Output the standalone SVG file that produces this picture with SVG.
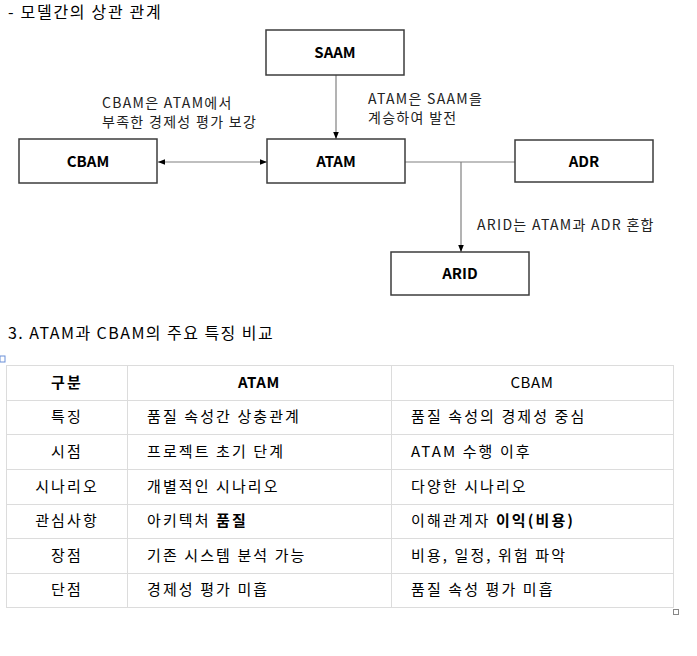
<svg xmlns="http://www.w3.org/2000/svg" width="697" height="656" viewBox="0 0 697 656">
<style>
.t{font-family:"Noto Sans CJK KR","Noto Sans",sans-serif;fill:#000}
.h{font-size:16px;letter-spacing:1.7px}
.h2{font-size:16px;letter-spacing:1.45px}
.lbl{font-size:14px;fill:#222;letter-spacing:1.3px}
.box{fill:#fff;stroke:#3c3c3c;stroke-width:1.5}
.bl{font-size:15px;font-weight:bold;text-anchor:middle}
.cn{stroke:#808080;stroke-width:1.2;fill:none}
.grid{stroke:#dcdcdc;stroke-width:1;fill:none}
.td{font-size:15px;letter-spacing:2.1px}
.lat{letter-spacing:0.6px}
.c{text-anchor:middle}
.b{font-weight:bold}
</style>
<defs>
<marker id="ah" viewBox="0 0 10 10" refX="10" refY="5" markerWidth="7" markerHeight="7" orient="auto-start-reverse" markerUnits="userSpaceOnUse">
<path d="M0,1 L10,5 L0,9 z" fill="#000"/>
</marker>
</defs>
<rect width="697" height="656" fill="#fff"/>
<text class="t h" x="8" y="18">- 모델간의 상관 관계</text>

<g id="connectors">
<line class="cn" x1="336" y1="75" x2="336" y2="139" marker-end="url(#ah)"/>
<line class="cn" x1="158" y1="162" x2="267" y2="162" marker-start="url(#ah)" marker-end="url(#ah)"/>
<line class="cn" x1="405" y1="162" x2="515" y2="162"/>
<line class="cn" x1="461" y1="162" x2="461" y2="252" marker-end="url(#ah)"/>
<text class="t lbl" x="102" y="108">CBAM은 ATAM에서</text>
<text class="t lbl" x="102" y="127">부족한 경제성 평가 보강</text>
<text class="t lbl" x="368" y="104">ATAM은 SAAM을</text>
<text class="t lbl" x="368" y="123">계승하여 발전</text>
<text class="t lbl" x="477" y="230">ARID는 ATAM과 ADR 혼합</text>
</g>

<g id="SAAM"><rect class="box" x="266" y="30" width="138" height="45"/><text class="t bl" x="335" y="58">SAAM</text></g>
<g id="ATAM"><rect class="box" x="267" y="139" width="138" height="44"/><text class="t bl" x="336" y="167">ATAM</text></g>
<g id="CBAM"><rect class="box" x="19" y="139" width="138" height="44"/><text class="t bl" x="88" y="167">CBAM</text></g>
<g id="ADR"><rect class="box" x="515" y="140" width="138" height="42"/><text class="t bl" x="584" y="167">ADR</text></g>
<g id="ARID"><rect class="box" x="391" y="252" width="138" height="43"/><text class="t bl" x="460" y="279">ARID</text></g>

<text class="t h2" x="8" y="339">3. ATAM과 CBAM의 주요 특징 비교</text>
<rect x="0" y="356" width="5" height="6" fill="#fff" stroke="#6a8fd8" stroke-width="1"/>

<g id="table">
<rect class="grid" x="6.5" y="365.5" width="667" height="242"/>
<line class="grid" x1="127.5" y1="365" x2="127.5" y2="608"/>
<line class="grid" x1="391.5" y1="365" x2="391.5" y2="608"/>
<line class="grid" x1="6" y1="400.5" x2="674" y2="400.5"/>
<line class="grid" x1="6" y1="434.5" x2="674" y2="434.5"/>
<line class="grid" x1="6" y1="469.5" x2="674" y2="469.5"/>
<line class="grid" x1="6" y1="504.5" x2="674" y2="504.5"/>
<line class="grid" x1="6" y1="538.5" x2="674" y2="538.5"/>
<line class="grid" x1="6" y1="573.5" x2="674" y2="573.5"/>
<rect x="673.5" y="609.5" width="5" height="5" fill="#fff" stroke="#888" stroke-width="1"/>

<text class="t td c b" x="67" y="388">구분</text>
<text class="t td c b lat" x="259" y="388">ATAM</text>
<text class="t td c lat" x="532" y="388">CBAM</text>

<text class="t td c" x="67" y="422">특징</text>
<text class="t td" x="147" y="422">품질 속성간 상충관계</text>
<text class="t td" x="411" y="422">품질 속성의 경제성 중심</text>

<text class="t td c" x="67" y="457">시점</text>
<text class="t td" x="147" y="457">프로젝트 초기 단계</text>
<text class="t td" x="411" y="457">ATAM 수행 이후</text>

<text class="t td c" x="67" y="492">시나리오</text>
<text class="t td" x="147" y="492">개별적인 시나리오</text>
<text class="t td" x="411" y="492">다양한 시나리오</text>

<text class="t td c" x="67" y="526">관심사항</text>
<text class="t td" x="147" y="526">아키텍처 <tspan class="b">품질</tspan></text>
<text class="t td" x="411" y="526">이해관계자 <tspan class="b">이익(비용)</tspan></text>

<text class="t td c" x="67" y="561">장점</text>
<text class="t td" x="147" y="561">기존 시스템 분석 가능</text>
<text class="t td" x="411" y="561">비용, 일정, 위험 파악</text>

<text class="t td c" x="67" y="595">단점</text>
<text class="t td" x="147" y="595">경제성 평가 미흡</text>
<text class="t td" x="411" y="595">품질 속성 평가 미흡</text>
</g>
</svg>
